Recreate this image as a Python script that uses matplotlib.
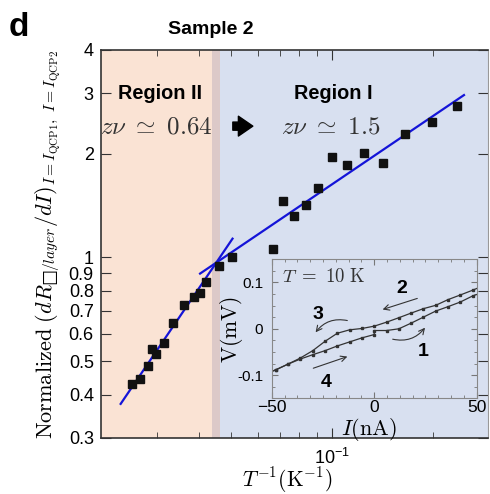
import matplotlib
matplotlib.use("Agg")
import matplotlib.pyplot as plt
from matplotlib.ticker import FixedLocator, FixedFormatter, NullFormatter, MultipleLocator

plt.rcParams['font.family'] = ['Liberation Sans', 'DejaVu Sans']
plt.rcParams['mathtext.fontset'] = 'cm'

# main panel: inverse temperature vs normalized dR/dI
inv_T = [0.02535, 0.02667, 0.02823, 0.02896, 0.02977, 0.03157, 0.03359, 0.03608,
         0.03882, 0.04036, 0.04206, 0.04590, 0.05040, 0.0668, 0.07155, 0.07719,
         0.08345, 0.09101, 0.1, 0.1106, 0.1246, 0.1423, 0.1655, 0.1984, 0.2356]
dRdI = [0.428, 0.443, 0.484, 0.541, 0.523, 0.564, 0.645, 0.726,
        0.767, 0.790, 0.847, 0.944, 1.003, 1.06, 1.456, 1.317,
        1.42, 1.596, 1.951, 1.861, 2.004, 1.877, 2.28, 2.476, 2.755]

# power-law fits (end points)
fit2_x = [0.0234, 0.0505]
fit2_y = [0.376, 1.134]
fit1_x = [0.0404, 0.248]
fit1_y = [0.898, 2.96]

# region boundaries in 1/T
region2_end = 0.04632
region1_start = 0.04383

y_ticks = [0.3, 0.4, 0.5, 0.6, 0.7, 0.8, 0.9, 1, 2, 3, 4]
y_labels = ['0.3', '0.4', '0.5', '0.6', '0.7', '0.8', '0.9', '1', '2', '3', '4']

# inset: I-V loop at 10 K
I_up = [50, 48, 42, 36, 30, 24, 18, 12, 6, 0, -6, -12, -18, -24, -30, -36, -42, -48, -50]
V_up = [0.087, 0.0833, 0.073, 0.063, 0.0507, 0.0435, 0.0339, 0.0239, 0.0143, 0.0057,
        0.0007, -0.0022, -0.0096, -0.027, -0.0472, -0.063, -0.0761, -0.0885, -0.092]
I_down = [-50, -48, -42, -36, -30, -24, -18, -12, -6, 0, 0, 6, 12, 18, 24, 30, 36, 42, 48, 50]
V_down = [-0.092, -0.0885, -0.0761, -0.0652, -0.0559, -0.0472, -0.037, -0.0283, -0.0196,
          -0.0124, -0.0037, -0.0037, 0.0, 0.0122, 0.0252, 0.0383, 0.0478, 0.0578, 0.0709, 0.074]

salmon = '#FAE3D4'
blue = '#D8E0F0'
overlap = '#DCC9C8'

fig = plt.figure(figsize=(4.9, 4.94), dpi=100)
ax = fig.add_axes([0.2055, 0.1140, 0.7904, 0.7848])
ax.set_xscale('log')
ax.set_yscale('log')
xmin, xmax = 0.0204, 0.2925
ax.set_xlim(xmin, xmax)
ax.set_ylim(0.3, 4)

ax.axvspan(xmin, region1_start, color=salmon, lw=0, zorder=0)
ax.axvspan(region1_start, region2_end, color=overlap, lw=0, zorder=0)
ax.axvspan(region2_end, xmax, color=blue, lw=0, zorder=0)

ax.plot(fit2_x, fit2_y, color='#1414D8', lw=1.6, zorder=2)
ax.plot(fit1_x, fit1_y, color='#1414D8', lw=1.6, zorder=2)
ax.plot(inv_T, dRdI, 's', color='#111111', ms=6, zorder=3)

ax.yaxis.set_major_locator(FixedLocator(y_ticks))
ax.yaxis.set_major_formatter(FixedFormatter(y_labels))
ax.yaxis.set_minor_locator(FixedLocator([]))
ax.xaxis.set_major_locator(FixedLocator([0.1]))
ax.xaxis.set_major_formatter(FixedFormatter([r'$\mathdefault{10^{-1}}$']))
ax.xaxis.set_minor_locator(FixedLocator([0.03, 0.04, 0.05, 0.06, 0.07, 0.08, 0.09, 0.2]))
ax.xaxis.set_minor_formatter(NullFormatter())
ax.tick_params(which='both', direction='in', top=True, right=True, color='#333333',
               labelsize=13, pad=5)
ax.tick_params(axis='x', pad=7)
ax.tick_params(which='major', length=7)
ax.tick_params(which='minor', length=4.5)
for s in ['left', 'bottom', 'top']:
    ax.spines[s].set_color('#333333')
    ax.spines[s].set_linewidth(1.2)
ax.spines['right'].set_color('#999999')

ax.set_ylabel('$\\mathrm{Normalized}\\ (dR_{\u25a1/layer}/dI)_{I=I_{\\mathrm{QCP1}},\\ I=I_{\\mathrm{QCP2}}}$',
              fontsize=16, va='center')
ax.yaxis.set_label_coords(-0.136, 0.497)
ax.set_xlabel(r'$T^{-1}(\mathrm{K}^{-1})$', fontsize=15.5, va='center')
ax.xaxis.set_label_coords(0.482, -0.109)

ax.text(0.153, 0.889, 'Region II', transform=ax.transAxes, ha='center', va='center',
        fontsize=14.3, fontweight='bold')
ax.text(0.1446, 0.8036, r'$z\nu\ \simeq\ 0.64$', transform=ax.transAxes, ha='center',
        va='center', fontsize=18, color='#333333')
ax.text(0.600, 0.889, 'Region I', transform=ax.transAxes, ha='center', va='center',
        fontsize=14.3, fontweight='bold')
ax.text(0.5946, 0.8036, r'$z\nu\ \simeq\ 1.5$', transform=ax.transAxes, ha='center',
        va='center', fontsize=18, color='#333333')
ax.annotate('', xy=(0.400, 0.8036), xytext=(0.334, 0.8036), xycoords='axes fraction',
            arrowprops=dict(arrowstyle='simple,head_width=1.1,head_length=0.8,tail_width=0.45',
                            color='black', mutation_scale=13))

fig.text(9 / 490, 1 - 27 / 494, 'd', fontsize=24, fontweight='bold', ha='left', va='center')
fig.text(211 / 490, 1 - 30 / 494, 'Sample 2', fontsize=14, fontweight='bold',
         ha='center', va='center')

# inset
ins = fig.add_axes([0.5545, 0.1937, 0.4184, 0.2814])
ins.set_facecolor(blue)
ins.plot(I_up, V_up, '-', color='#333333', lw=0.9, marker='s', ms=2,
         markevery=list(range(1, len(I_up) - 1)))
ins.plot(I_down, V_down, '-', color='#333333', lw=0.9, marker='s', ms=2,
         markevery=list(range(1, len(I_down) - 1)))
ins.set_xlim(-50, 50)
ins.set_ylim(-0.15, 0.15)
ins.xaxis.set_major_locator(FixedLocator([-50, 0, 50]))
ins.xaxis.set_minor_locator(MultipleLocator(6.25))
ins.yaxis.set_major_locator(FixedLocator([-0.1, 0, 0.1]))
ins.yaxis.set_major_formatter(FixedFormatter(['-0.1', '0', '0.1']))
ins.yaxis.set_minor_locator(MultipleLocator(0.025))
ins.tick_params(which='both', direction='in', top=True, right=True, color='#777777')
ins.tick_params(which='major', length=4)
ins.tick_params(which='minor', length=2.5)
ins.tick_params(axis='x', labelsize=12.5, pad=1.5)
ins.tick_params(axis='y', labelsize=11, pad=6)
for s in ins.spines.values():
    s.set_color('#888888')

ins.set_ylabel(r'$\mathrm{V(mV)}$', fontsize=15.5, va='center')
ins.yaxis.set_label_coords(-0.195, 0.491)
ins.set_xlabel(r'$I(\mathrm{nA})$', fontsize=16, va='center')
ins.xaxis.set_label_coords(0.475, -0.225)

ins.text(-45, 0.111, r'$T\ =\ 10\ \mathrm{K}$', fontsize=13.5, ha='left', va='center',
         color='#333333')
for lab, lx, ly in [('2', 13.4, 0.087), ('3', -27.3, 0.031), ('4', -23.2, -0.116), ('1', 24, -0.05)]:
    ins.text(lx, ly, lab, fontsize=14, fontweight='bold', ha='center', va='center')

arrow_kw = dict(arrowstyle='->', color='#333333', lw=0.8)
ins.annotate('', xy=(2.8, 0.0398), xytext=(22.3, 0.0674), arrowprops=arrow_kw)
ins.annotate('', xy=(-11.8, -0.058), xytext=(-31, -0.087), arrowprops=arrow_kw)
ins.annotate('', xy=(-29.4, -0.0124), xytext=(-11.8, 0.0165),
             arrowprops=dict(connectionstyle='arc3,rad=0.35', **arrow_kw))
ins.annotate('', xy=(25.6, 0.0072), xytext=(7.7, -0.021),
             arrowprops=dict(connectionstyle='arc3,rad=0.35', **arrow_kw))

fig.savefig('out.png', dpi=100)
